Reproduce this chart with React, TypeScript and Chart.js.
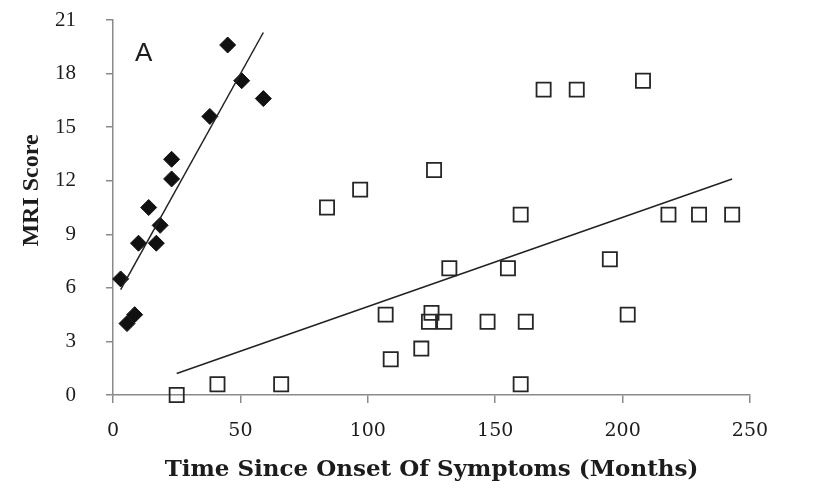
import React, { useEffect, useRef } from "react";
import { Chart, registerables } from "chart.js";

Chart.register(...registerables);

// Early-onset group (filled diamonds)
const earlyMonths = [3, 5.5, 8.5, 10, 14, 17, 18.5, 23, 23, 38, 45, 50.5, 59];
const earlyScores = [6.5, 4, 4.5, 8.5, 10.5, 8.5, 9.5, 12.1, 13.2, 15.6, 19.6, 17.6, 16.6];

// Later group (open squares)
const lateMonths = [25, 41, 66, 84, 97, 107, 109, 121, 124, 125, 126, 130, 132, 147, 155, 160, 160, 162, 169, 182, 195, 202, 208, 218, 230, 243];
const lateScores = [0, 0.6, 0.6, 10.5, 11.5, 4.5, 2, 2.6, 4.1, 4.6, 12.6, 4.1, 7.1, 4.1, 7.1, 10.1, 0.6, 4.1, 17.1, 17.1, 7.6, 4.5, 17.6, 10.1, 10.1, 10.1];

// Linear trend lines (end points)
const earlyTrendMonths = [3, 59];
const earlyTrendScores = [5.9, 20.3];
const lateTrendMonths = [25, 243];
const lateTrendScores = [1.2, 12.1];

const xTickValues = [0, 50, 100, 150, 200, 250];
const yTickValues = [0, 3, 6, 9, 12, 15, 18, 21];

const xTitle = "Time Since Onset Of Symptoms (Months)";
const yTitle = "MRI Score";
const panelLabel = "A";

const toPoints = (xs: number[], ys: number[]) => xs.map((x, i) => ({ x, y: ys[i] }));

const axisColor = "#8a8a8a";
const textColor = "#1c1c1c";

const titlesPlugin = {
  id: "titles",
  afterDraw(chart: any) {
    const { ctx, chartArea, scales } = chart;
    ctx.save();
    ctx.fillStyle = textColor;
    ctx.textAlign = "center";
    ctx.textBaseline = "middle";
    ctx.font = 'bold 23px "DejaVu Serif"';
    ctx.fillText(xTitle, (chartArea.left + chartArea.right) / 2, chartArea.bottom + 75);
    ctx.save();
    ctx.translate(32, (chartArea.top + chartArea.bottom) / 2 - 17);
    ctx.rotate(-Math.PI / 2);
    ctx.font = 'bold 24px "Liberation Serif"';
    ctx.fillText(yTitle, 0, 0);
    ctx.restore();
    ctx.font = '26px "Liberation Sans"';
    ctx.fillText(panelLabel, scales.x.getPixelForValue(12), scales.y.getPixelForValue(19.1));
    ctx.restore();
  },
};

export default function App() {
  const canvasRef = useRef<HTMLCanvasElement | null>(null);

  useEffect(() => {
    const canvas = canvasRef.current;
    if (!canvas) return;
    const chart = new Chart(canvas, {
      type: "scatter",
      data: {
        datasets: [
          {
            type: "line",
            data: toPoints(earlyTrendMonths, earlyTrendScores),
            borderColor: "#222",
            borderWidth: 1.5,
            pointRadius: 0,
            fill: false,
            clip: false,
          },
          {
            type: "line",
            data: toPoints(lateTrendMonths, lateTrendScores),
            borderColor: "#222",
            borderWidth: 1.5,
            pointRadius: 0,
            fill: false,
            clip: false,
          },
          {
            data: toPoints(earlyMonths, earlyScores),
            pointStyle: "rectRot",
            pointRadius: 8,
            backgroundColor: "#111",
            borderColor: "#111",
            borderWidth: 1,
            clip: false,
          },
          {
            data: toPoints(lateMonths, lateScores),
            pointStyle: "rect",
            pointRadius: 10,
            backgroundColor: "rgba(255,255,255,0)",
            borderColor: "#262626",
            borderWidth: 1.8,
            clip: false,
          },
        ] as any,
      },
      options: {
        responsive: false,
        animation: false,
        devicePixelRatio: 1,
        layout: { padding: { top: 20, right: 65, left: 0, bottom: 0 } },
        plugins: { legend: { display: false }, tooltip: { enabled: false } },
        scales: {
          x: {
            type: "linear",
            min: 0,
            max: 250,
            afterFit: (s: any) => {
              s.height = 95;
              s.paddingLeft = 0;
              s.paddingRight = 0;
            },
            afterBuildTicks: (s: any) => {
              s.ticks = xTickValues.map((value) => ({ value }));
            },
            ticks: {
              padding: 17,
              color: textColor,
              font: { family: '"DejaVu Serif"', size: 19 },
            },
            grid: { drawOnChartArea: false, tickLength: 8, color: axisColor, lineWidth: 1.5 },
            border: { display: true, color: axisColor, width: 1.5 },
          },
          y: {
            type: "linear",
            min: 0,
            max: 21,
            afterFit: (s: any) => {
              s.width = 113;
              s.paddingTop = 0;
              s.paddingBottom = 0;
            },
            afterBuildTicks: (s: any) => {
              s.ticks = yTickValues.map((value) => ({ value }));
            },
            ticks: {
              padding: 30,
              color: textColor,
              font: { family: '"Liberation Serif"', size: 21 },
            },
            grid: { drawOnChartArea: false, tickLength: 7, color: axisColor, lineWidth: 1.5 },
            border: { display: true, color: axisColor, width: 1.5 },
          },
        },
      } as any,
      plugins: [titlesPlugin],
    });
    return () => chart.destroy();
  }, []);

  return (
    <div style={{ position: "absolute", left: 0, top: 0, width: 815, height: 490, background: "#fff" }}>
      <canvas ref={canvasRef} width={815} height={490} />
    </div>
  );
}
